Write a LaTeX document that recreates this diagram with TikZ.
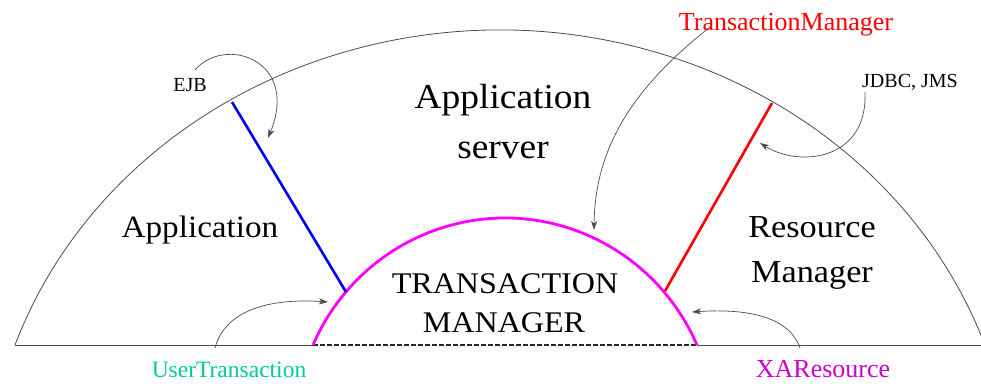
\documentclass[tikz,border=0pt]{standalone}
\usepackage{fontspec}
\setmainfont{Liberation Serif}
\newfontfamily\widefont[FakeStretch=1.07]{Liberation Serif}
\usetikzlibrary{arrows.meta}
\definecolor{utcol}{RGB}{0,204,150}
\definecolor{xacol}{RGB}{204,0,204}
\definecolor{tmcol}{RGB}{255,0,255}
\begin{document}
\begin{tikzpicture}[x=1pt,y=-1pt,
  txt/.style={inner sep=0pt, anchor=base},
  big/.style={txt, font=\widefont\fontsize{#1}{#1}\selectfont},
  plain/.style={txt, font=\fontsize{#1}{#1}\selectfont},
  pointer/.style={draw=black!70, line width=0.7pt,
    -{Stealth[length=9pt,width=6pt,inset=2.5pt]}},
  outline/.style={draw=black!70, line width=0.8pt},
  divider/.style={line width=2.6pt},
]
\path[use as bounding box, fill=white] (0,0) rectangle (981,383);

% ground line and the outer dome of the application server
\coordinate (gl) at (15,345);
\coordinate (gr) at (981,345);
\coordinate (tml) at (313,345);
\coordinate (tmr) at (697,345);
\draw[outline] (gl) -- (tml);
\draw[outline] (tmr) -- (gr);
\draw[outline] (gl) arc[start angle=160.74, end angle=19.26,
  x radius=513.7pt, y radius=470pt];

% transaction manager dome
\draw[black!85, line width=1.4pt, dash pattern=on 5pt off 2pt] (tml) -- (tmr);
\draw[tmcol, line width=2.8pt] (tml) arc[start angle=156.36, end angle=23.64,
  x radius=209.6pt, y radius=212pt];

% dividing lines
\coordinate (bt) at (232,102);
\coordinate (bb) at (346,292);
\coordinate (rt) at (772,103);
\coordinate (rb) at (665,291);
\draw[divider, blue] (bt) -- (bb);
\draw[divider, red] (rt) -- (rb);

% region labels
\node[big=35] (srv1) at (503,108) {Application};
\node[big=35] (srv2) at (503,158) {server};
\node[big=31] (app) at (200,237) {Application};
\node[big=32] (rm1) at (812,237) {Resource};
\node[big=32] (rm2) at (812,282) {Manager};
\node[big=30] (tm1) at (505,293) {TRANSACTION};
\node[big=30] (tm2) at (504,332) {MANAGER};

% interface labels
\node[plain=20] (ejb) at (190,91) {EJB};
\node[plain=20] (jdbc) at (910,87) {JDBC, JMS};
\node[plain=26, text=red] (tmi) at (786,30) {TransactionManager};
\node[plain=23.5, text=utcol] (uti) at (229,377) {UserTransaction};
\node[plain=26, text=xacol] (xai) at (823,377) {XAResource};

% pointers
\coordinate (ejbs) at (195,70);
\coordinate (ejbe) at (268,138);
\draw[pointer] (ejbs) .. controls (225,35) and (300,60) .. (ejbe);

\coordinate (jdbcs) at (865,92);
\coordinate (jdbce) at (760,143);
\draw[pointer] (jdbcs) .. controls (868,160) and (800,168) .. (jdbce);

\coordinate (tmis) at (710,27);
\coordinate (tmie) at (594,230);
\draw[pointer] (tmis) .. controls (630,90) and (595,150) .. (tmie);

\coordinate (utis) at (215,348);
\coordinate (utie) at (328,302);
\draw[pointer] (utis) .. controls (225,310) and (270,298) .. (utie);

\coordinate (xais) at (800,348);
\coordinate (xaie) at (692,312);
\draw[pointer] (xais) .. controls (790,318) and (750,308) .. (xaie);
\end{tikzpicture}
\end{document}
